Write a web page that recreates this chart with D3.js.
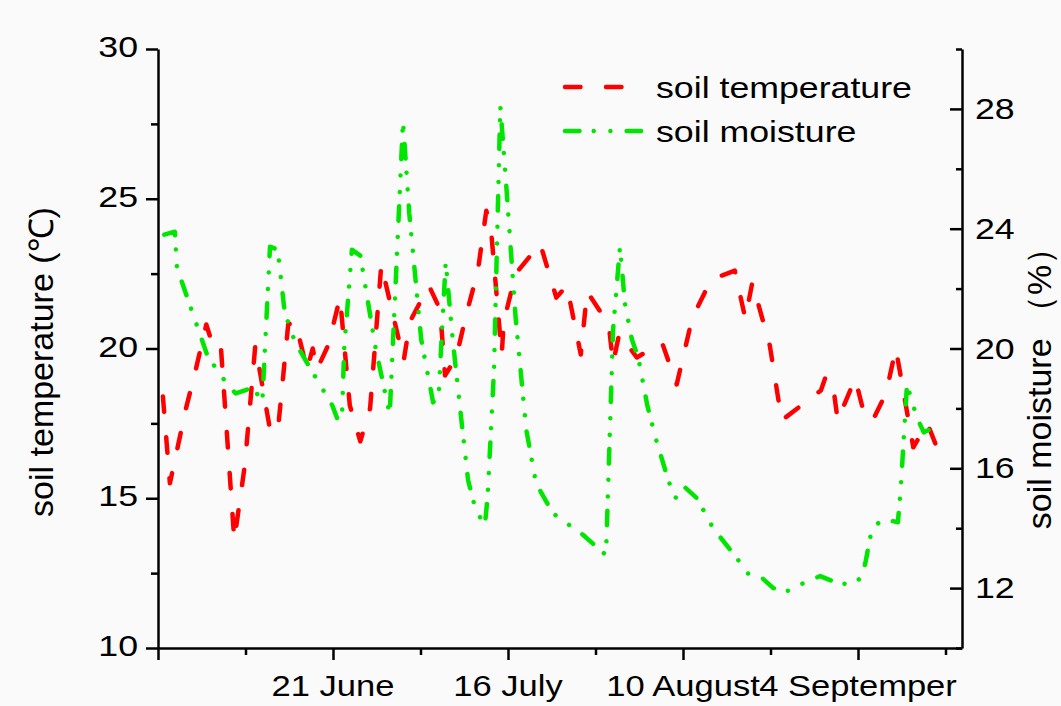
<!DOCTYPE html>
<html lang="en">
<head>
<meta charset="UTF-8">
<title>soil temperature and moisture</title>
<script src="https://d3js.org/d3.v7.min.js"></script>
<style>
  html, body { margin: 0; padding: 0; overflow: hidden; background: #fafafa; }
  svg { display: block; }
  text { font-family: "Liberation Sans", Arial, sans-serif; fill: #000; }
</style>
</head>
<body>
<svg width="1061" height="706" id="mainsvg"></svg>
<script>
// days counted from 27 May
const dayTemp = [0.7, 1.7, 4.0, 5.4, 6.9, 8.1, 9.0, 10.9, 12.4, 13.9, 16.0, 17.1, 18.6, 19.6, 21.3, 22.1, 22.7, 24.3,
  26.0, 27.4, 28.9, 30.3, 31.9, 35.1, 36.0, 38.7, 40.3, 41.0, 42.6, 44.0, 45.7, 46.9, 47.6, 49.1, 49.4, 51.1, 54.6,
  56.9, 58.4, 60.4, 61.3, 64.4, 65.0, 65.9, 68.4, 72.0, 74.1, 76.3, 79.0, 82.4, 83.9, 84.9, 87.4, 89.1, 94.7, 95.3,
  96.3, 97.1, 99.6, 101.0, 102.1, 104.0, 105.4, 107.9, 109.9, 111.1];
const soilTemp = [18.4, 15.5, 18.0, 19.3, 20.8, 19.9, 20.0, 13.6, 16.1, 20.1, 17.3, 17.2, 20.8, 20.9, 19.3, 20.0, 19.3, 20.1,
  21.7, 18.1, 16.9, 18.0, 22.8, 19.6, 20.9, 22.1, 21.3, 19.1, 19.7, 21.1, 22.6, 24.6, 23.9, 19.8, 20.9, 22.5, 23.5,
  21.7, 22.1, 19.8, 21.9, 20.8, 19.5, 20.5, 19.7, 20.2, 18.8, 21.0, 22.3, 22.6, 21.0, 22.2, 20.1, 17.6, 18.6, 19.0,
  19.0, 17.6, 19.0, 17.7, 17.6, 18.5, 20.0, 16.7, 17.5, 16.8];

const dayMoist = [0.9, 2.4, 2.7, 7.0, 8.1, 9.9, 11.1, 13.6, 14.9, 16.0, 17.1, 18.1, 19.6, 22.1, 24.9, 25.7, 26.3, 26.6,
  27.7, 28.9, 31.1, 33.1, 35.0, 35.9, 37.6, 39.3, 40.1, 41.1, 42.1, 43.3, 44.3, 45.4, 46.7, 47.1, 48.0, 48.9, 49.7,
  51.1, 52.6, 54.0, 56.4, 60.6, 64.0, 64.6, 65.0, 66.0, 66.7, 67.7, 68.6, 69.9, 71.1, 72.9, 73.9, 75.1, 77.0, 79.3,
  82.7, 84.1, 86.0, 87.9, 90.3, 92.4, 94.6, 96.7, 99.3, 100.6, 101.1, 102.0, 103.6, 105.7, 106.1, 107.0, 108.4, 109.4, 111.1];
const soilMoist = [23.8, 23.9, 22.7, 19.8, 19.4, 18.8, 18.5, 18.7, 18.2, 23.4, 23.3, 21.2, 20.2, 19.2, 18.1, 17.6, 17.9, 20.0,
  23.3, 23.1, 20.0, 17.8, 27.6, 24.5, 20.3, 18.2, 18.5, 22.9, 20.3, 17.7, 15.6, 14.6, 14.1, 15.1, 19.3, 28.1, 25.6,
  21.0, 17.3, 15.5, 14.5, 13.8, 13.1, 17.6, 20.6, 23.4, 21.5, 20.3, 19.7, 18.1, 17.0, 15.6, 15.0, 15.4, 15.0, 14.0,
  13.0, 12.5, 12.4, 12.0, 11.9, 12.2, 12.4, 12.2, 12.1, 12.4, 12.9, 14.0, 14.3, 14.2, 15.3, 18.8, 17.7, 17.2, 17.4];

const xMajorTicks = [0, 25, 50, 75, 100];
const xTickLabels = ['', '21 June', '16 July', '10 August', '4 Septemper'];
const xMinorTicks = [12.5, 37.5, 62.5, 87.5, 112.5];
const tempTicks = [10, 15, 20, 25, 30];
const tempMinorTicks = [12.5, 17.5, 22.5, 27.5];
const moistTicks = [12, 16, 20, 24, 28];
const moistMinorTicks = [10, 14, 18, 22, 26, 30];

const svg = d3.select('#mainsvg');
const margin = { top: 49, right: 99, bottom: 58, left: 158 };
const width = +svg.attr('width');
const height = +svg.attr('height');
const innerWidth = width - margin.left - margin.right;
const innerHeight = height - margin.top - margin.bottom;
const stretch = 1.19; // text in the picture is wider than plain Arial

svg.append('rect').attr('width', width).attr('height', height).attr('fill', '#fafafa');

const xScale = d3.scaleLinear().domain([0, innerWidth / 7]).range([0, innerWidth]);
const yTemp = d3.scaleLinear().domain([10, 30]).range([innerHeight, 0]);
const yMoist = d3.scaleLinear().domain([10, 30]).range([innerHeight, 0]);

const g = svg.append('g').attr('transform', `translate(${margin.left},${margin.top})`);

// widened text in page coordinates
const label = (x, y, str, size, anchor) => {
  const t = svg.append('text')
    .attr('x', x).attr('y', y)
    .attr('text-anchor', anchor)
    .style('font-size', size + 'px')
    .text(str);
  const w = t.node().getComputedTextLength();
  t.attr('textLength', w * stretch).attr('lengthAdjust', 'spacingAndGlyphs');
  return t;
};

const styleAxis = sel => {
  sel.selectAll('.domain').attr('stroke', '#000').attr('stroke-width', 2.5);
  sel.selectAll('.tick line').attr('stroke', '#000').attr('stroke-width', 2.5);
  sel.selectAll('.tick text').remove();
};

// x axis
g.append('g').attr('transform', `translate(0,${innerHeight})`)
  .call(d3.axisBottom(xScale).tickValues(xMajorTicks).tickSize(12).tickSizeOuter(0))
  .call(styleAxis);
g.append('g').attr('transform', `translate(0,${innerHeight})`)
  .call(d3.axisBottom(xScale).tickValues(xMinorTicks).tickSize(7))
  .call(styleAxis).select('.domain').remove();
xMajorTicks.forEach((d, i) => {
  if (xTickLabels[i]) label(margin.left + xScale(d), height - 10, xTickLabels[i], 29, 'middle');
});

// left axis
g.append('g')
  .call(d3.axisLeft(yTemp).tickValues(tempTicks).tickSize(12).tickSizeOuter(0))
  .call(styleAxis);
g.append('g').call(d3.axisLeft(yTemp).tickValues(tempMinorTicks).tickSize(7))
  .call(styleAxis).select('.domain').remove();
tempTicks.forEach(d => label(margin.left - 20, margin.top + yTemp(d) + 8, d, 30, 'end'));

// right axis, ticks pointing inwards
g.append('g').attr('transform', `translate(${innerWidth},0)`)
  .call(d3.axisLeft(yMoist).tickValues(moistTicks).tickSize(12).tickSizeOuter(0))
  .call(styleAxis);
g.append('g').attr('transform', `translate(${innerWidth},0)`)
  .call(d3.axisLeft(yMoist).tickValues(moistMinorTicks).tickSize(6))
  .call(styleAxis).select('.domain').remove();
moistTicks.forEach(d => label(margin.left + innerWidth + 13, margin.top + yMoist(d) + 10, d, 30, 'start'));

// axis titles
svg.append('text')
  .attr('transform', 'rotate(-90)')
  .attr('x', -362).attr('y', 53)
  .attr('text-anchor', 'middle').style('font-size', '34px')
  .text('soil temperature (℃)');
svg.append('text')
  .attr('transform', 'rotate(-90)')
  .attr('x', -380).attr('y', 1051)
  .attr('text-anchor', 'middle').style('font-size', '34px')
  .text('soil moisture （%）');

// lines
const lineW = 4.5;
const redDash = '15.5,25.5';
const greenDash = '14.5,14.2,0.01,16.7,0.01,16.2';

const tempLine = d3.line().x(d => xScale(d[0])).y(d => yTemp(d[1]));
const moistLine = d3.line().x(d => xScale(d[0])).y(d => yMoist(d[1]));

g.append('path').datum(d3.zip(dayTemp, soilTemp))
  .attr('d', tempLine).attr('fill', 'none').attr('stroke', '#ff0000')
  .attr('stroke-width', lineW).attr('stroke-linecap', 'round').attr('stroke-linejoin', 'round')
  .attr('stroke-dasharray', redDash);

g.append('path').datum(d3.zip(dayMoist, soilMoist))
  .attr('d', moistLine).attr('fill', 'none').attr('stroke', '#00e600')
  .attr('stroke-width', lineW).attr('stroke-linecap', 'round').attr('stroke-linejoin', 'round')
  .attr('stroke-dasharray', greenDash);

// legend
const legend = [
  { name: 'soil temperature', color: '#ff0000', dash: redDash, y: 87 },
  { name: 'soil moisture', color: '#00e600', dash: greenDash, y: 131 }
];
legend.forEach(item => {
  svg.append('line')
    .attr('x1', 565).attr('x2', 645).attr('y1', item.y).attr('y2', item.y)
    .attr('stroke', item.color).attr('stroke-width', lineW).attr('stroke-linecap', 'round')
    .attr('stroke-dasharray', item.dash);
  label(656, item.y + 11, item.name, 30, 'start');
});
</script>
</body>
</html>
